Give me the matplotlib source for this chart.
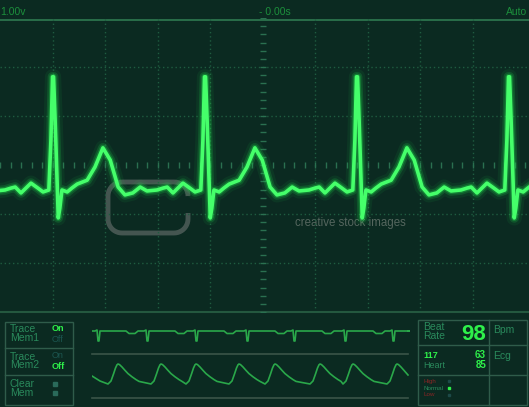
import numpy as np
import matplotlib
matplotlib.use("Agg")
import matplotlib.pyplot as plt
from matplotlib.patches import Rectangle

W, H = 529, 407
BG = "#0b2a21"
GRID = "#1f5c40"
DIM = "#2a8a5c"
BRIGHT = "#2ef04a"
OFF = "#1b5650"
BOX = "#2f5c4a"

plt.rcParams["font.family"] = ["Liberation Sans Narrow", "Liberation Sans", "DejaVu Sans"]

# one ECG beat on the big screen: time from the R peak and volts, in screen divisions
beat_t = [-0.72, -0.61, -0.42, -0.29, -0.19, -0.08, -0.04, -0.01, 0.01, 0.04, 0.10, 0.13, 0.17,
          0.27, 0.36, 0.46, 0.65, 0.80, 0.95, 1.09, 1.24, 1.37, 1.52, 1.66, 1.79, 1.98, 2.10, 2.17]
beat_v = [-0.45, -0.57, -0.37, -0.47, -0.55, -0.51, 0.51, 1.80, 1.80, 0.92, -1.08, -0.88, -0.51,
          -0.55, -0.47, -0.39, -0.31, -0.04, 0.35, 0.10, -0.45, -0.61, -0.57, -0.45, -0.53, -0.51, -0.47, -0.45]
r_peaks = [-6.886, -3.99, -1.095, 1.80, 4.695]

# memory 1 strip (small ECG), x in px along the strip
mini_spikes = [6, 55, 104, 155, 202, 253, 301]
spike_t = [-3, -1, 0, 1, 2, 28, 31, 37, 40]
spike_v = [0, 0.1, -1, -1, 0, 0, -0.25, -0.25, 0]

# memory 2 strip (pulse wave)
pulse_peaks = [26, 69, 104, 147, 183, 228, 261, 305]
rise_t = [-10, -7, -4.5, -2.5, -1, 0]
rise_v = [0.0, 0.15, 0.5, 0.8, 0.96, 1.0]
fall_t = [1.5, 4, 7, 10, 14, 18, 21]
fall_v = [0.97, 0.85, 0.68, 0.52, 0.36, 0.22, 0.13]

fig = plt.figure(figsize=(W / 100, H / 100), dpi=100)
fig.patch.set_facecolor(BG)

bg = fig.add_axes([0, 0, 1, 1], zorder=0)
bg.set_xlim(0, W)
bg.set_ylim(H, 0)
bg.axis("off")


def px_axes(x0, y0, x1, y1, z=2):
    ax = fig.add_axes([x0 / W, 1 - y1 / H, (x1 - x0) / W, (y1 - y0) / H], zorder=z)
    ax.patch.set_alpha(0)
    ax.axis("off")
    return ax


# header
hdr = dict(color="#1c8f3c", fontsize=7.5, va="center")
bg.text(0, 12, "1.00v", **hdr)
bg.text(275, 12, "- 0.00s", ha="center", **hdr)
bg.text(527, 12, "Auto", ha="right", **hdr)
bg.plot([0, W], [20, 20], color="#2e7a50", lw=1.2)
bg.plot([0, W], [312, 312], color="#24583f", lw=1.5)

# scope screen
scope = px_axes(0, 18, W, 312, z=3)
scope.set_xlim(-5, 5.076)
scope.set_ylim(-3, 3)
for i in [-4, -3, -2, -1, 1, 2, 3, 4]:
    scope.axvline(i, color=GRID, lw=1, ls=(0, (1, 2)))
for j in [-2, -1, 1, 2]:
    scope.axhline(j, color=GRID, lw=1, ls=(0, (1, 2)))
ht = np.arange(-5, 5.1, 0.2)
scope.plot(ht, np.zeros_like(ht), ls="none", marker="|", ms=4, mew=1, color="#2a7050")
vt = np.arange(-3, 3.01, 1 / 6)
scope.plot(np.zeros_like(vt), vt, ls="none", marker="_", ms=4, mew=1, color="#2a7050")

# watermark
r = 14
pts = []
for cx, cy, a0, a1 in [(174, 196, 0, 90), (122, 196, 90, 180), (122, 219, 180, 270), (174, 219, 270, 360)]:
    a = np.radians(np.linspace(a0, a1, 12))
    pts += list(zip(cx + r * np.cos(a), cy - r * np.sin(a)))
pts.append((188, 213))
cx_, cy_ = zip(*pts)
bg.plot(cx_, cy_, color="#8a8a8a", alpha=0.45, lw=3.5, solid_capstyle="butt")
bg.text(295, 223, "creative stock images", color="#55665e", fontsize=8.3,
        family=["Liberation Sans", "DejaVu Sans"], va="center")

# main trace
tx, vy = [], []
for rp in r_peaks:
    tx += [rp + t for t in beat_t]
    vy += beat_v
for lw, al in [(11, 0.08), (7, 0.2), (4.5, 0.35)]:
    scope.plot(tx, vy, color="#1fd04a", lw=lw, alpha=al, solid_joinstyle="round")
scope.plot(tx, vy, color="#45ff6a", lw=2.6, solid_joinstyle="round")

# left memory box
bg.add_patch(Rectangle((5, 322), 68, 83, fill=False, ec=BOX, lw=1))
for y in [348, 375]:
    bg.plot([5, 73], [y, y], color=BOX, lw=1)
lab = dict(fontsize=7.5, va="center", linespacing=0.85)
sw = dict(fontsize=6.5, va="center")
bg.text(10, 333.5, "Trace\nMem1", color=DIM, **lab)
bg.text(52, 328.5, "On", color=BRIGHT, fontweight="bold", **sw)
bg.text(52, 339, "Off", color=OFF, **sw)
bg.text(10, 361, "Trace\nMem2", color=DIM, **lab)
bg.text(52, 356, "On", color=OFF, **sw)
bg.text(52, 366.5, "Off", color=BRIGHT, fontweight="bold", **sw)
bg.text(10, 388.5, "Clear\nMem", color=DIM, **lab)
bg.plot([55, 55], [384, 393], ls="none", marker="s", ms=2.5, color="#2a6a5a")

# memory strips
m1 = px_axes(92, 316, 410, 346)
m1.set_xlim(0, 318)
m1.set_ylim(-1.5, 1.5)
mx, my = [0], [0]
for s in mini_spikes:
    mx += [s + t for t in spike_t]
    my += spike_v
mx.append(316)
my.append(0)
m1.plot(mx, my, color="#2aa84a", lw=1.2)

m2 = px_axes(92, 356, 410, 388)
m2.set_xlim(0, 318)
m2.set_ylim(-0.2, 1.4)
px_, py_ = [0, 8], [0.4, 0.15]
for p in pulse_peaks:
    px_ += [p + t for t in rise_t + fall_t]
    py_ += rise_v + fall_v
px_ = px_[:-4] + [316]
py_ = py_[:-4] + [0.45]
m2.plot(px_, py_, color="#2aa84a", lw=1.2, solid_joinstyle="round")
for y in [354, 398]:
    bg.plot([92, 408], [y, y], color="#3b5548", lw=1.2)

# right readout box
bg.add_patch(Rectangle((418, 320), 109, 85, fill=False, ec=BOX, lw=1))
for y in [345, 375]:
    bg.plot([418, 527], [y, y], color=BOX, lw=1)
bg.plot([489, 489], [320, 405], color=BOX, lw=1)
bg.text(423, 331.5, "Beat\nRate", color=DIM, **lab)
bg.text(486, 334, "98", color=BRIGHT, fontsize=16, fontweight="bold", ha="right", va="center")
bg.text(493, 330, "Bpm", color=DIM, fontsize=7.5, va="center")
bg.text(423, 355.5, "117", color=BRIGHT, fontsize=6.5, va="center", fontweight="bold")
bg.text(423, 365.5, "Heart", color=DIM, fontsize=6.5, va="center")
bg.text(486, 355, "63", color=BRIGHT, fontsize=7, ha="right", va="center", fontweight="bold")
bg.text(486, 365.5, "85", color=BRIGHT, fontsize=7, ha="right", va="center", fontweight="bold")
bg.text(493, 356, "Ecg", color=DIM, fontsize=7.5, va="center")
small = dict(fontsize=4.5, va="center")
bg.text(423, 381, "High", color="#8a2525", **small)
bg.text(423, 388, "Normal", color=DIM, **small)
bg.text(423, 395, "Low", color="#8a2525", **small)
bg.plot([449, 449], [381, 395], ls="none", marker="s", ms=1.8, color="#1d4a48")
bg.plot([449], [388], ls="none", marker="s", ms=2, color=BRIGHT)

fig.savefig("out.png", dpi=100, facecolor=BG)
